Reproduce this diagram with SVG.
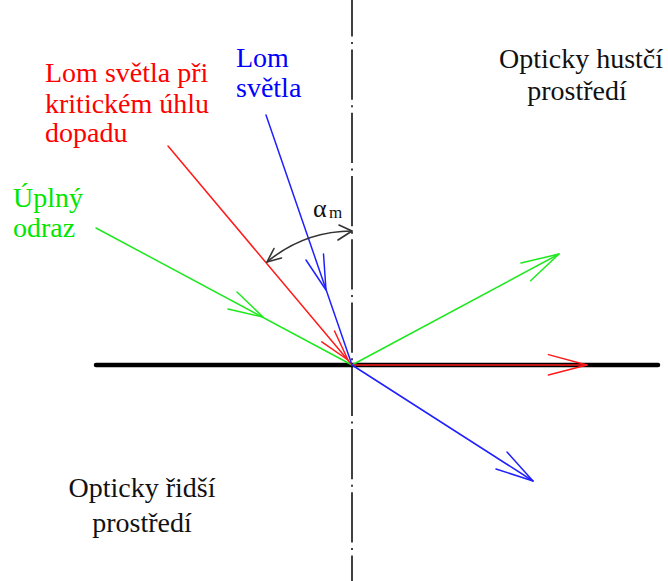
<svg xmlns="http://www.w3.org/2000/svg" width="668" height="581" viewBox="0 0 668 581">
<style>
text{font-family:"Liberation Serif","Times New Roman",Times,"Nimbus Roman","Nimbus Roman No9 L","DejaVu Serif","Noto Serif",FreeSerif,serif;font-size:28px}
.ray{fill:none;stroke-width:1.5;stroke-linecap:round;stroke-linejoin:round}
.r{stroke:#ff1a1a}.g{stroke:#1ee81e}.b{stroke:#2020ff}
.tr{fill:#ff0000}.tg{fill:#00e600}.tb{fill:#0000ff}.tk{fill:#111}
.sub{font-size:17px}.al{font-size:26px}
</style>
<rect width="668" height="581" fill="#fff"/>
<g id="axis">
<line x1="352" y1="-13.75" x2="352" y2="581" stroke="#111" stroke-width="1.6" stroke-dasharray="50.25 5.5 2 5.5"/>
</g>
<g id="interface">
<line x1="96" y1="365" x2="658" y2="365" stroke="#000" stroke-width="4.5" stroke-linecap="round"/>
</g>
<g id="connectors">
<g id="green-rays">
<line class="ray g" x1="96" y1="228" x2="352" y2="365"/>
<polyline class="ray g" points="228,309 263,317 237,292"/>
<line class="ray g" x1="352" y1="365" x2="559" y2="254"/>
<polyline class="ray g" points="521,263 559,254 530.6,280.7"/>
</g>
<g id="red-rays">
<line class="ray r" x1="168" y1="146" x2="352" y2="365"/>
<polyline class="ray r" points="321.8,341.8 348,360 334.5,331"/>
<line class="ray r" x1="352" y1="365" x2="587" y2="365"/>
<polyline class="ray r" points="548.4,354.6 587,365 548.4,375"/>
</g>
<g id="blue-rays">
<line class="ray b" x1="266" y1="115" x2="352" y2="365"/>
<polyline class="ray b" points="306,260 326,290 323.5,254"/>
<line class="ray b" x1="352" y1="365" x2="533" y2="481"/>
<polyline class="ray b" points="496,469 533,481 507,452"/>
</g>
<g id="angle-arc" fill="none" stroke="#333" stroke-width="1.6" stroke-linecap="round" stroke-linejoin="round">
<path d="M267 262 A134 134 0 0 1 352 231"/>
<polyline points="274,248.5 267,262 281.5,258"/>
<polyline points="339,225 352,231 338,240"/>
</g>
</g>
<g id="label-critical">
<text x="45" y="82" class="tr">Lom světla při</text>
<text x="45" y="112.5" class="tr">kritickém úhlu</text>
<text x="45" y="142" class="tr">dopadu</text>
</g>
<g id="label-refraction">
<text x="236" y="67" class="tb">Lom</text>
<text x="236" y="97" class="tb">světla</text>
</g>
<g id="label-total">
<text x="13" y="207" class="tg">Úplný</text>
<text x="13" y="237" class="tg">odraz</text>
</g>
<g id="label-denser">
<text x="581" y="68" class="tk" text-anchor="middle">Opticky hustčí</text>
<text x="577" y="100" class="tk" text-anchor="middle">prostředí</text>
</g>
<g id="label-rarer">
<text x="142" y="497" class="tk" text-anchor="middle">Opticky řidší</text>
<text x="142" y="532" class="tk" text-anchor="middle">prostředí</text>
</g>
<g id="label-alpha">
<text x="313" y="217" class="tk al">α</text>
<text x="329" y="218" class="tk sub">m</text>
</g>
</svg>
